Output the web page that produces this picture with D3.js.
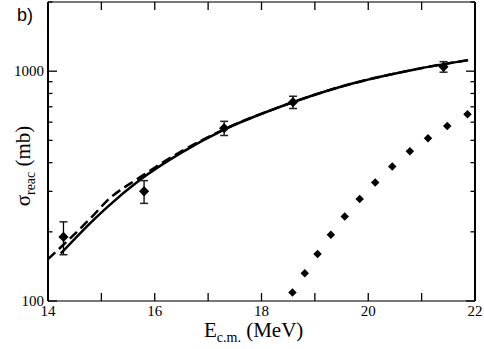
<!DOCTYPE html>
<html>
<head>
<meta charset="utf-8">
<script src="https://cdn.jsdelivr.net/npm/d3@7"></script>
<style>
  body { margin: 0; background: #fff; }
  text { font-family: "Liberation Serif", "Times New Roman", serif; }
</style>
</head>
<body>
<svg id="chart" width="484" height="349"></svg>
<script>
// measured cross sections (diamonds with error bars)
var dataE = [14.29, 15.80, 17.30, 18.59, 21.41];
var dataSigma = [190, 300, 565, 733, 1045];
var dataErr = [31, 34, 40, 45, 55];

// solid curve
var solidE = [14.24, 14.85, 15.1, 15.72, 16.5, 17.28, 18.35, 19.6, 20.85, 21.87];
var solidSigma = [161, 225, 255, 336, 442, 554, 700, 871, 1015, 1117];

// dashed curve
var dashE = [14.0, 14.85, 15.1, 15.72, 16.5, 17.28, 18.35, 19.6, 20.85, 21.87];
var dashSigma = [152, 236, 272, 345, 448, 556, 700, 871, 1015, 1117];

// dotted curve (drawn as thick dots)
var dotE = [18.58, 18.81, 19.05, 19.30, 19.56, 19.84, 20.13, 20.45, 20.78, 21.12, 21.48, 21.86];
var dotSigma = [109, 132, 160, 194, 233, 278, 328, 385, 448, 511, 578, 650];

var xTicks = [14, 16, 18, 20, 22];
var xMinor = [15, 17, 19, 21];
var yTicks = [100, 1000];
var yMinor = [200, 300, 400, 500, 600, 700, 800, 900, 2000];

var svg = d3.select("#chart");
var pLeft = 48, pRight = 475, pTop = 2, pBottom = 301;

var x = d3.scaleLinear().domain([14, 22]).range([pLeft, pRight]);
var y = d3.scaleLog().domain([100, 2000]).range([pBottom, pTop]);

// curves
var line = d3.line()
    .x(function(d) { return x(d[0]); })
    .y(function(d) { return y(d[1]); })
    .curve(d3.curveMonotoneX);

svg.append("path")
    .datum(d3.zip(dashE, dashSigma))
    .attr("d", line)
    .attr("fill", "none")
    .attr("stroke", "#000")
    .attr("stroke-width", 2.5)
    .attr("stroke-dasharray", "10,5");

svg.append("path")
    .datum(d3.zip(solidE, solidSigma))
    .attr("d", line)
    .attr("fill", "none")
    .attr("stroke", "#000")
    .attr("stroke-width", 2.5);

// dotted curve
svg.selectAll(".dot")
    .data(d3.zip(dotE, dotSigma))
    .enter()
    .append("rect")
    .attr("class", "dot")
    .attr("x", -3).attr("y", -3)
    .attr("width", 6).attr("height", 6)
    .attr("fill", "#000")
    .attr("transform", function(d) { return "translate(" + x(d[0]) + "," + y(d[1]) + ") rotate(45)"; });

// error bars
var pts = dataE.map(function(e, i) { return [e, dataSigma[i], dataErr[i]]; });
var eb = svg.selectAll(".eb").data(pts).enter().append("g").attr("class", "eb");
eb.append("line")
    .attr("x1", function(d) { return x(d[0]); })
    .attr("x2", function(d) { return x(d[0]); })
    .attr("y1", function(d) { return y(d[1] + d[2]); })
    .attr("y2", function(d) { return y(d[1] - d[2]); })
    .attr("stroke", "#000").attr("stroke-width", 1.3);
[1, -1].forEach(function(s) {
    eb.append("line")
        .attr("x1", function(d) { return x(d[0]) - 4; })
        .attr("x2", function(d) { return x(d[0]) + 4; })
        .attr("y1", function(d) { return y(d[1] + s * d[2]); })
        .attr("y2", function(d) { return y(d[1] + s * d[2]); })
        .attr("stroke", "#222").attr("stroke-width", 1.5);
});
eb.append("rect")
    .attr("x", -3.6).attr("y", -3.6)
    .attr("width", 7.2).attr("height", 7.2)
    .attr("fill", "#000")
    .attr("transform", function(d) { return "translate(" + x(d[0]) + "," + y(d[1]) + ") rotate(45)"; });

// frame
svg.append("line").attr("x1", pLeft).attr("x2", pRight).attr("y1", pTop).attr("y2", pTop)
    .attr("stroke", "#777").attr("stroke-width", 2);
svg.append("line").attr("x1", pLeft).attr("x2", pRight).attr("y1", pBottom).attr("y2", pBottom)
    .attr("stroke", "#777").attr("stroke-width", 2);
svg.append("line").attr("x1", pLeft).attr("x2", pLeft).attr("y1", pTop).attr("y2", pBottom)
    .attr("stroke", "#000").attr("stroke-width", 2);
svg.append("line").attr("x1", pRight).attr("x2", pRight).attr("y1", pTop).attr("y2", pBottom)
    .attr("stroke", "#000").attr("stroke-width", 2);

// x ticks, bottom and top, pointing in
var xAll = xTicks.concat(xMinor);
[[pBottom, -8], [pTop, 8]].forEach(function(p) {
    svg.selectAll(null).data(xAll).enter().append("line")
        .attr("x1", function(d) { return x(d); })
        .attr("x2", function(d) { return x(d); })
        .attr("y1", p[0]).attr("y2", p[0] + p[1])
        .attr("stroke", "#000").attr("stroke-width", 1.3);
});

// y ticks, left and right
[[pLeft, 1], [pRight, -1]].forEach(function(p) {
    svg.selectAll(null).data(yTicks).enter().append("line")
        .attr("x1", p[0]).attr("x2", p[0] + p[1] * 9)
        .attr("y1", function(d) { return y(d); })
        .attr("y2", function(d) { return y(d); })
        .attr("stroke", "#000").attr("stroke-width", 1.3);
    svg.selectAll(null).data(yMinor).enter().append("line")
        .attr("x1", p[0]).attr("x2", p[0] + p[1] * 4.5)
        .attr("y1", function(d) { return y(d); })
        .attr("y2", function(d) { return y(d); })
        .attr("stroke", "#000").attr("stroke-width", 1.3);
});

// tick labels
svg.selectAll(null).data(xTicks).enter().append("text")
    .attr("x", function(d) { return x(d); })
    .attr("y", 316)
    .attr("text-anchor", "middle")
    .style("font-size", "15px")
    .text(function(d) { return d; });

svg.selectAll(null).data(yTicks).enter().append("text")
    .attr("x", 44)
    .attr("y", function(d) { return y(d) + 5; })
    .attr("text-anchor", "end")
    .style("font-size", "15px")
    .text(function(d) { return d; });

// axis titles
var xt = svg.append("text").attr("x", 204).attr("y", 337).style("font-size", "21px");
xt.append("tspan").text("E");
xt.append("tspan").attr("dy", 5).style("font-size", "14px").text("c.m.");
xt.append("tspan").attr("dy", -5).text(" (MeV)");

var yt = svg.append("text")
    .attr("transform", "translate(30,166) rotate(-90)")
    .attr("text-anchor", "middle")
    .style("font-size", "21px");
yt.append("tspan").text("σ");
yt.append("tspan").attr("dy", 5).style("font-size", "14px").text("reac");
yt.append("tspan").attr("dy", -5).text(" (mb)");

// panel label
svg.append("text")
    .attr("x", 17).attr("y", 21)
    .style("font-family", "'Liberation Sans', Arial, sans-serif")
    .style("font-size", "18px")
    .text("b)");
</script>
</body>
</html>
